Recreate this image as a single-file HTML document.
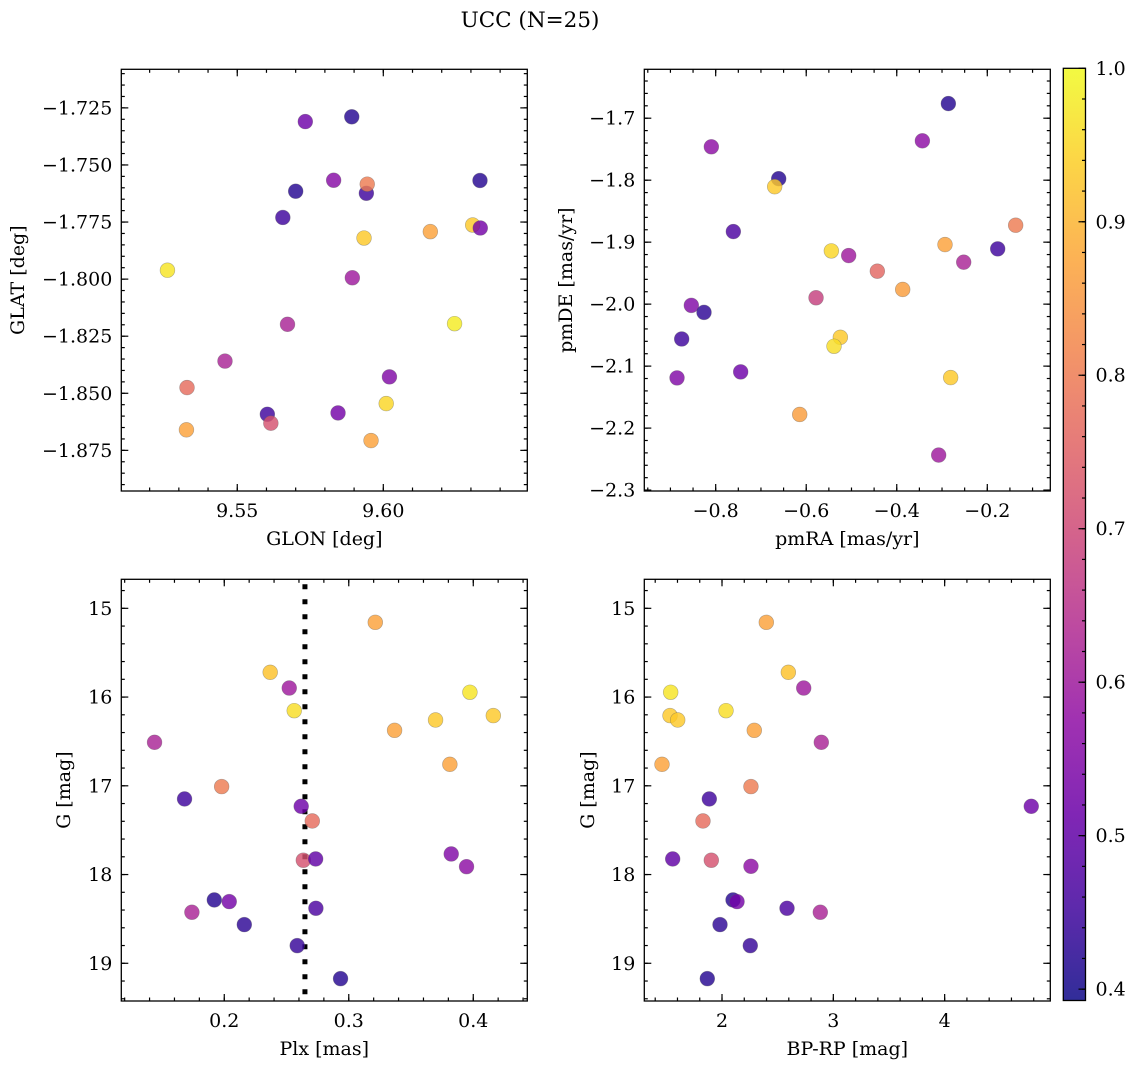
<!DOCTYPE html>
<html><head><meta charset="utf-8"><style>
html,body{margin:0;padding:0;background:#fff;}
svg{display:block;font-family:"DejaVu Serif","Liberation Serif",serif;}
</style></head><body>
<svg id="fig" width="1136" height="1068" xmlns="http://www.w3.org/2000/svg">
<text x="530" y="27" font-size="21.5" text-anchor="middle">UCC (N=25)</text>
</svg>
<script>
// ---- data ----
const p1Glon=[9.5261,9.5328,9.5326,9.5458,9.5603,9.5615,9.5656,9.5672,9.5700,9.5733,9.5830,9.5845,9.5892,9.5894,9.5934,9.5942,9.5945,9.5958,9.6021,9.6010,9.6161,9.6244,9.6306,9.6331,9.6332];
const p1Glat=[-1.7961,-1.8475,-1.8660,-1.8359,-1.8592,-1.8631,-1.7730,-1.8198,-1.7615,-1.7310,-1.7567,-1.8586,-1.7289,-1.7994,-1.7820,-1.7624,-1.7584,-1.8707,-1.8428,-1.8545,-1.7792,-1.8195,-1.7763,-1.7568,-1.7776];
const p1Prob=[0.97,0.77,0.87,0.62,0.45,0.72,0.45,0.62,0.42,0.52,0.56,0.53,0.42,0.6,0.93,0.45,0.8,0.87,0.55,0.95,0.87,0.98,0.93,0.42,0.53];
const p2PmRA=[-0.286,-0.8096,-0.6608,-0.6697,-0.761,-0.3434,-0.1373,-0.2934,-0.177,-0.5445,-0.5062,-0.2521,-0.4429,-0.3869,-0.5783,-0.8538,-0.8258,-0.5246,-0.8751,-0.5386,-0.7448,-0.8854,-0.2809,-0.6144,-0.3074];
const p2PmDE=[-1.6764,-1.7461,-1.7976,-1.8105,-1.8829,-1.7365,-1.8727,-1.9039,-1.9108,-1.9141,-1.9216,-1.9323,-1.9468,-1.9763,-1.9897,-2.0020,-2.0133,-2.0535,-2.0562,-2.0680,-2.1093,-2.1190,-2.1185,-2.1780,-2.2435];
const p2Prob=[0.42,0.57,0.42,0.93,0.47,0.57,0.8,0.87,0.45,0.95,0.6,0.62,0.76,0.86,0.68,0.55,0.43,0.93,0.45,0.96,0.52,0.55,0.93,0.86,0.6];
const p3Plx=[0.3213,0.2369,0.2522,0.2562,0.3973,0.4161,0.3697,0.3368,0.1440,0.3812,0.1979,0.1681,0.2618,0.2707,0.2635,0.2734,0.3823,0.3946,0.1920,0.2040,0.1740,0.2736,0.2161,0.2586,0.2934];
const p3G=[15.158,15.721,15.898,16.153,15.946,16.209,16.258,16.375,16.510,16.758,17.009,17.148,17.231,17.396,17.839,17.824,17.768,17.911,18.286,18.305,18.425,18.380,18.564,18.801,19.173];
const p3Prob=[0.87,0.92,0.6,0.96,0.97,0.93,0.93,0.87,0.62,0.87,0.8,0.45,0.52,0.77,0.72,0.5,0.55,0.57,0.42,0.53,0.62,0.47,0.43,0.44,0.42];
const plxLine=[0.2648];
const p4BpRp=[2.398,2.596,2.734,1.539,2.036,1.533,1.602,2.290,2.892,1.461,2.260,1.886,4.778,1.829,1.904,1.557,2.260,2.099,2.135,2.883,2.584,1.982,2.254,1.868];
const p4G=[15.158,15.721,15.898,15.946,16.153,16.209,16.258,16.375,16.510,16.758,17.009,17.148,17.231,17.396,17.839,17.824,17.907,18.286,18.305,18.425,18.380,18.564,18.801,19.173];
const p4Prob=[0.87,0.92,0.6,0.97,0.96,0.93,0.93,0.87,0.62,0.87,0.8,0.45,0.52,0.77,0.72,0.5,0.57,0.42,0.53,0.62,0.47,0.43,0.44,0.42];
const p1XTicks=[9.55,9.60], p1YTicks=[-1.725,-1.75,-1.775,-1.8,-1.825,-1.85,-1.875];
const p2XTicks=[-0.8,-0.6,-0.4,-0.2], p2YTicks=[-1.7,-1.8,-1.9,-2.0,-2.1,-2.2,-2.3];
const p3XTicks=[0.2,0.3,0.4], gTicks=[15,16,17,18,19];
const p4XTicks=[2,3,4];
const cbTicks=[0.4,0.5,0.6,0.7,0.8,0.9,1.0];
const VMIN=0.3926, VMAX=1.0;

const FS=19;
const NS="http://www.w3.org/2000/svg";
const svg=document.getElementById('fig');
function el(tag,attrs,parent){const e=document.createElementNS(NS,tag);for(const k in attrs)e.setAttribute(k,attrs[k]);(parent||svg).appendChild(e);return e;}
const stops=["#0d0887","#41049d","#6a00a8","#8f0da4","#b12a90","#cc4778","#e16462","#f2844b","#fca636","#fcce25","#f0f921"];
function hex(h){return [parseInt(h.substr(1,2),16),parseInt(h.substr(3,2),16),parseInt(h.substr(5,2),16)];}
function plasma(t){t=Math.max(0,Math.min(1,t));const f=t*10,i=Math.min(9,Math.floor(f)),r=f-i;const a=hex(stops[i]),b=hex(stops[i+1]);return 'rgb('+a.map((v,k)=>Math.round(v+(b[k]-v)*r)).join(',')+')';}
function cmap(v){return plasma((v-VMIN)/(VMAX-VMIN));}
function fmt(v,d){return (v<0?'\u2212':'')+Math.abs(v).toFixed(d);}

function panel(o){
  const g=el('g',{});
  
  
  const sx=v=>o.L+(v-o.x0)/(o.x1-o.x0)*(o.R-o.L);
  const sy=v=>o.B-(v-o.y0)/(o.y1-o.y0)*(o.B-o.T);
  const tk=(vals,isX,len)=>{vals.forEach(v=>{
    if(isX){const x=sx(v);if(x<o.L-0.5||x>o.R+0.5)return;el('line',{x1:x,x2:x,y1:o.B,y2:o.B-len,stroke:'#000','stroke-width':1.2},g);el('line',{x1:x,x2:x,y1:o.T,y2:o.T+len,stroke:'#000','stroke-width':1.2},g);}
    else{const y=sy(v);if(y<Math.min(o.T,o.B)-0.5||y>Math.max(o.T,o.B)+0.5)return;el('line',{x1:o.L,x2:o.L+len,y1:y,y2:y,stroke:'#000','stroke-width':1.2},g);el('line',{x1:o.R,x2:o.R-len,y1:y,y2:y,stroke:'#000','stroke-width':1.2},g);}
  });};
  const range=(a,b,s)=>{const r=[];const lo=Math.min(a,b),hi=Math.max(a,b);for(let k=Math.ceil(lo/s-1e-9);k*s<=hi+1e-9;k++)r.push(k*s);return r;};
  tk(range(o.x0,o.x1,o.xm),true,3.5);
  tk(range(o.y0,o.y1,o.ym),false,3.5);
  tk(o.xt,true,7);tk(o.yt,false,7);
  o.xt.forEach(v=>{const t=el('text',{x:sx(v),y:o.B+26,'font-size':FS,'text-anchor':'middle'},g);t.textContent=fmt(v,o.xd);
    
    });
  o.yt.forEach(v=>{const t=el('text',{x:o.L-9,y:sy(v)+6.5,'font-size':FS,'text-anchor':'end'},g);t.textContent=fmt(v,o.yd);
    
    });
  const xl=el('text',{x:(o.L+o.R)/2,y:o.B+54,'font-size':FS,'text-anchor':'middle'},g);xl.textContent=o.xlab;
  
  
  const yl=el('text',{x:0,y:0,'font-size':FS,'text-anchor':'middle',transform:'translate('+o.ylx+','+((o.T+o.B)/2)+') rotate(-90)'},g);yl.textContent=o.ylab;
  
  
  if(o.vline){o.vline.forEach(v=>{const l=el('line',{x1:sx(v),x2:sx(v),y1:o.T+5,y2:o.B,stroke:'#000','stroke-width':5,'stroke-dasharray':'5 10'},g);
    
    });}
  o.xs.forEach((v,i)=>{const c=el('circle',{cx:sx(v),cy:sy(o.ys[i]),r:7.4,fill:cmap(o.ps[i]),'fill-opacity':0.82,stroke:'rgba(90,90,90,0.45)','stroke-width':0.6},g);
    
    });
  const f=el('rect',{x:o.L,y:o.T,width:o.R-o.L,height:o.B-o.T,fill:'none',stroke:'#000','stroke-width':1.3},g);
  
  
}
panel({name:'glon-glat-panel',L:121.3,R:527.3,T:69.3,B:491,x0:9.5103,x1:9.6493,y0:-1.8928,y1:-1.7081,xm:0.01,ym:0.005,xt:p1XTicks,yt:p1YTicks,xd:2,yd:3,xlab:'GLON [deg]',ylab:'GLAT [deg]',ylx:24,xs:p1Glon,ys:p1Glat,ps:p1Prob});
panel({name:'proper-motion-panel',L:644.3,R:1050.3,T:69.3,B:491,x0:-0.9577,x1:-0.0608,y0:-2.3015,y1:-1.6211,xm:0.05,ym:0.02,xt:p2XTicks,yt:p2YTicks,xd:1,yd:1,xlab:'pmRA [mas/yr]',ylab:'pmDE [mas/yr]',ylx:572,xs:p2PmRA,ys:p2PmDE,ps:p2Prob});
panel({name:'plx-g-panel',L:121.3,R:527.3,T:579.3,B:1001,x0:0.1173,x1:0.4434,y0:19.425,y1:14.673,xm:0.02,ym:0.2,xt:p3XTicks,yt:gTicks,xd:1,yd:0,xlab:'Plx [mas]',ylab:'G [mag]',ylx:70,xs:p3Plx,ys:p3G,ps:p3Prob,vline:plxLine});
panel({name:'cmd-panel',L:644.3,R:1050.3,T:579.3,B:1001,x0:1.302,x1:4.949,y0:19.425,y1:14.673,xm:0.2,ym:0.2,xt:p4XTicks,yt:gTicks,xd:0,yd:0,xlab:'BP-RP [mag]',ylab:'G [mag]',ylx:594,xs:p4BpRp,ys:p4G,ps:p4Prob});

// colorbar
(function(){
  const L=1063.3,R=1085.5,T=68.3,B=1000.5;
  const g=el('g',{});
  
  
  const defs=el('defs',{},g);
  const lg=el('linearGradient',{id:'cbg',x1:0,y1:1,x2:0,y2:0},defs);
  for(let i=0;i<=20;i++){el('stop',{offset:i/20,'stop-color':plasma(i/20),'stop-opacity':0.85},lg);}
  el('rect',{x:L,y:T,width:R-L,height:B-T,fill:'url(#cbg)'},g);
  const sy=v=>B-(v-VMIN)/(VMAX-VMIN)*(B-T);
  for(let k=20;k<=50;k++){const v=k*0.02;if(v<VMIN||v>VMAX+1e-9)continue;const y=sy(v);el('line',{x1:R,x2:R-3.5,y1:y,y2:y,stroke:'#000','stroke-width':1.2},g);}
  cbTicks.forEach(v=>{const y=sy(v);el('line',{x1:R,x2:R-7,y1:y,y2:y,stroke:'#000','stroke-width':1.2},g);
    const t=el('text',{x:R+10,y:y+6.5,'font-size':FS},g);t.textContent=v.toFixed(1);
    
    });
  el('rect',{x:L,y:T,width:R-L,height:B-T,fill:'none',stroke:'#000','stroke-width':1.3},g);
})();
</script>
</body></html>
